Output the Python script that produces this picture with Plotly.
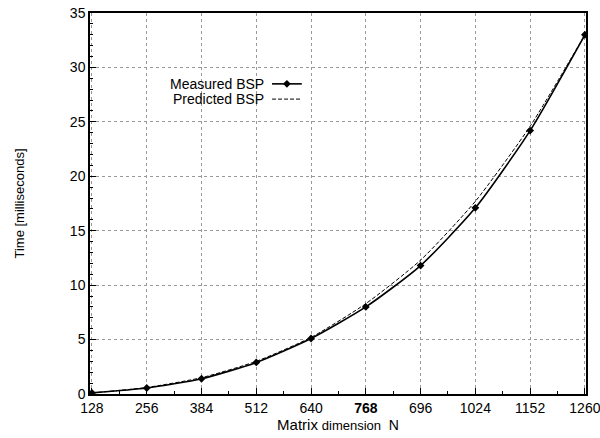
import plotly.graph_objects as go

categories = ["128", "256", "384", "512", "640", "768", "696", "1024", "1152", "1260"]
measured = [0.1, 0.55, 1.4, 2.9, 5.1, 8.0, 11.8, 17.1, 24.2, 33.0]
predicted = [0.1, 0.6, 1.5, 3.0, 5.2, 8.3, 12.3, 17.7, 24.6, 33.0]
tick_text = ["128", "256", "384", "512", "640", "<b>768</b>", "696", "1024", "1152", "1260"]
y_ticks = [0, 5, 10, 15, 20, 25, 30, 35]

xi = list(range(len(categories)))

fig = go.Figure()
fig.add_trace(go.Scatter(x=xi, y=predicted, mode="lines",
                         line=dict(color="black", width=1, dash="4px,2px", shape="spline", smoothing=0.6),
                         name="Predicted BSP", showlegend=False))
fig.add_trace(go.Scatter(x=xi, y=measured, mode="lines+markers",
                         line=dict(color="black", width=1.6, shape="spline", smoothing=0.6),
                         marker=dict(symbol="diamond", size=6, color="black"),
                         name="Measured BSP", showlegend=False))

font = dict(family="Liberation Sans, Arial, sans-serif", size=14, color="black")

fig.update_layout(
    width=600, height=438,
    margin=dict(l=90, r=14, t=13, b=44),
    plot_bgcolor="white", paper_bgcolor="white",
    font=font,
    xaxis=dict(
        range=[-0.036, 9.02], automargin=False, ticklabeloverflow="allow",
        tickmode="array", tickvals=xi, ticktext=tick_text,
        showgrid=True, gridcolor="#999", griddash="dot", gridwidth=1,
        ticks="inside", ticklen=6, tickcolor="black",
        showline=True, linecolor="black", linewidth=1.5, mirror=True,
        zeroline=False,
        title=dict(text="<span style='font-size:15px'>Matrix</span> <span style='font-size:13px'>dimension</span>  N",
                   standoff=2, font=dict(size=14)),
        minor=dict(tickvals=[i + 0.5 for i in xi[:-1]], ticks="inside", ticklen=3, tickcolor="black"),
    ),
    yaxis=dict(
        range=[0, 35], automargin=False,
        tickvals=y_ticks,
        showgrid=True, gridcolor="#999", griddash="dot", gridwidth=1,
        ticks="inside", ticklen=6, tickcolor="black",
        showline=True, linecolor="black", linewidth=1.5, mirror=True,
        zeroline=False,
        title=dict(text="Time [milliseconds]", standoff=42, font=dict(size=13)),
        minor=dict(ticks="inside", ticklen=3, tickcolor="black", dtick=1),
    ),
)

# legend drawn manually (text right-aligned, sample to the right)
fig.add_annotation(xref="paper", yref="paper", x=0.355, y=0.814, text="Measured BSP",
                   showarrow=False, xanchor="right", yanchor="middle", font=dict(size=14))
fig.add_annotation(xref="paper", yref="paper", x=0.355, y=0.774, text="Predicted BSP",
                   showarrow=False, xanchor="right", yanchor="middle", font=dict(size=14))
fig.add_shape(type="line", xref="paper", yref="paper", x0=0.367, x1=0.427, y0=0.814, y1=0.814,
              line=dict(color="black", width=1.6))
fig.add_shape(type="line", xref="paper", yref="paper", x0=0.367, x1=0.427, y0=0.774, y1=0.774,
              line=dict(color="black", width=1, dash="4px,2px"))
fig.add_trace(go.Scatter(x=[0.397], y=[0.814], xaxis="x2", yaxis="y2", mode="markers",
                         marker=dict(symbol="diamond", size=6, color="black"), showlegend=False,
                         hoverinfo="skip"))
fig.update_layout(
    xaxis2=dict(range=[0, 1], domain=[0, 1], overlaying="x", visible=False),
    yaxis2=dict(range=[0, 1], domain=[0, 1], overlaying="y", visible=False),
)

fig.write_html("out.html")
